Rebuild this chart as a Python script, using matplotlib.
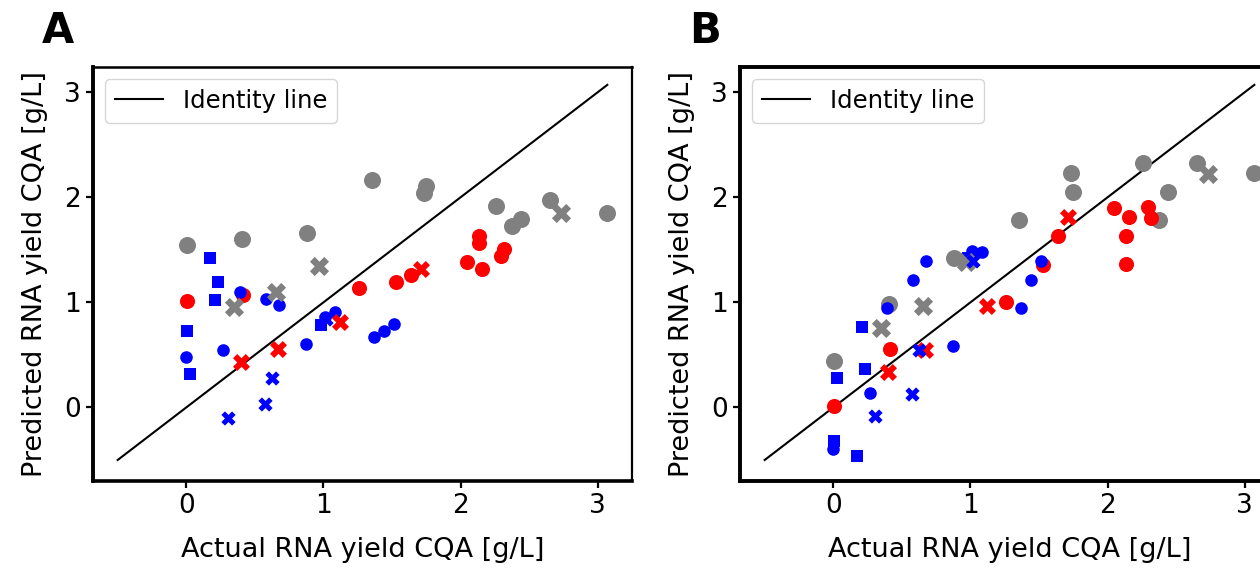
import matplotlib
matplotlib.use("Agg")
import matplotlib.pyplot as plt
import numpy as np

# ---------------- data ----------------
# actual values (shared by both panels)
gray_o_x = [0.005, 0.405, 0.878, 1.352, 1.734, 1.747, 2.256, 2.375, 2.438, 2.651, 3.064]
red_o_x = [0.005, 0.417, 1.257, 1.526, 1.635, 2.050, 2.135, 2.135, 2.159, 2.298, 2.314]
blue_o_x = [0.0, 0.271, 0.393, 0.580, 0.679, 0.873, 1.014, 1.082, 1.366, 1.443, 1.512]
blue_s_x = [0.005, 0.024, 0.175, 0.209, 0.233, 0.985]
gray_x_x = [0.349, 0.655, 0.970, 2.731]
red_x_x = [0.400, 0.667, 1.121, 1.713]
blue_x_x = [0.301, 0.573, 0.626, 1.018]

# predicted values, panel A
A_gray_o = [1.543, 1.607, 1.662, 2.162, 2.041, 2.105, 1.914, 1.724, 1.793, 1.978, 1.854]
A_red_o = [1.012, 1.073, 1.136, 1.197, 1.257, 1.384, 1.629, 1.565, 1.321, 1.438, 1.511]
A_blue_o = [0.479, 0.543, 1.095, 1.035, 0.974, 0.607, 0.860, 0.911, 0.667, 0.727, 0.790]
A_blue_s = [0.724, 0.321, 1.426, 1.026, 1.190, 0.788]
A_gray_x = [0.955, 1.095, 1.343, 1.850]
A_red_x = [0.431, 0.555, 0.810, 1.321]
A_blue_x = [-0.102, 0.029, 0.279, 0.840]

# predicted values, panel B
B_gray_o = [0.438, 0.981, 1.425, 1.781, 2.231, 2.050, 2.327, 1.781, 2.050, 2.327, 2.231]
B_red_o = [0.016, 0.555, 1.003, 1.359, 1.629, 1.902, 1.631, 1.362, 1.812, 1.908, 1.807]
B_blue_o = [-0.400, 0.136, 0.943, 1.210, 1.390, 0.584, 1.489, 1.483, 0.943, 1.210, 1.390]
B_blue_s = [-0.321, 0.276, -0.460, 0.765, 0.368, 1.420]
B_gray_x = [0.759, 0.968, 1.384, 2.226]
B_red_x = [0.336, 0.543, 0.965, 1.812]
B_blue_x = [-0.083, 0.130, 0.549, 1.393]

identity_range = [-0.5, 3.07]

panel_letters = ["A", "B"]
xlabel = "Actual RNA yield CQA [g/L]"
ylabel = "Predicted RNA yield CQA [g/L]"
legend_label = "Identity line"

GRAY, RED, BLUE = "#808080", "#ff0000", "#0000ff"

fig = plt.figure(figsize=(12.6, 5.69), dpi=100)

W = 0.4278
axA = fig.add_axes([93/1260, 1-481/569, W, (481-67)/569])
axB = fig.add_axes([740/1260, 1-481/569, W, (481-67)/569])

panels = [
    (axA, A_gray_o, A_red_o, A_blue_o, A_blue_s, A_gray_x, A_red_x, A_blue_x),
    (axB, B_gray_o, B_red_o, B_blue_o, B_blue_s, B_gray_x, B_red_x, B_blue_x),
]

for ax, go, ro, bo, bs, gx, rx, bx in panels:
    ax.plot(identity_range, identity_range, color="black", lw=1.5, label=legend_label, zorder=1)
    ax.scatter(gray_o_x, go, s=150, c=GRAY, marker="o", linewidths=0, zorder=2)
    ax.scatter(red_o_x, ro, s=118, c=RED, marker="o", linewidths=0, zorder=2)
    ax.scatter(blue_o_x, bo, s=82, c=BLUE, marker="o", linewidths=0, zorder=2)
    ax.scatter(blue_s_x, bs, s=68, c=BLUE, marker="s", linewidths=0, zorder=2)
    ax.scatter(gray_x_x, gx, s=190, c=GRAY, marker="X", linewidths=0, zorder=2)
    ax.scatter(red_x_x, rx, s=150, c=RED, marker="X", linewidths=0, zorder=2)
    ax.scatter(blue_x_x, bx, s=105, c=BLUE, marker="X", linewidths=0, zorder=2)
    ax.set_xlim(-0.68, 3.25)
    ax.set_ylim(-0.70, 3.24)
    ax.set_xticks([0, 1, 2, 3])
    ax.set_yticks([0, 1, 2, 3])
    ax.tick_params(labelsize=19, width=1.6, length=5, direction="out")
    ax.set_xlabel(xlabel, fontsize=19.5, labelpad=13)
    ax.set_ylabel(ylabel, fontsize=19.5, labelpad=12)
    ax.legend(loc="upper left", fontsize=17.5, handlelength=2.0)

for side, lw in [("left", 2.8), ("bottom", 2.6), ("top", 1.8), ("right", 1.6)]:
    axA.spines[side].set_linewidth(lw)
for side in ["left", "bottom", "top", "right"]:
    axB.spines[side].set_linewidth(2.8)

fig.text(42/1260, 1-43/569, panel_letters[0], fontsize=30, fontweight="bold", va="baseline", ha="left")
fig.text(689/1260, 1-43/569, panel_letters[1], fontsize=30, fontweight="bold", va="baseline", ha="left")

fig.savefig("out.png", dpi=100)
